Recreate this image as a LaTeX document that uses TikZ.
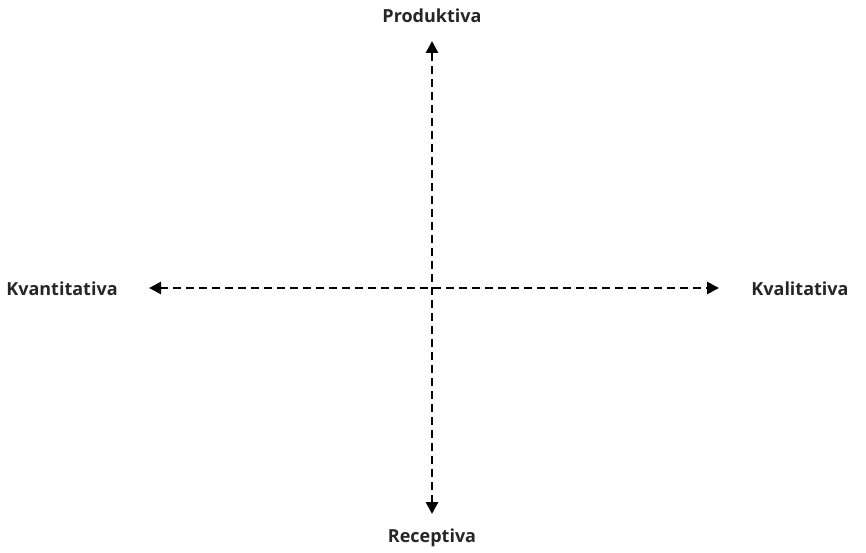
\documentclass[tikz,border=0pt]{standalone}
\usepackage{fontspec}
\setmainfont{Open Sans}
\usetikzlibrary{arrows.meta}
\definecolor{txt}{HTML}{262626}
\begin{document}
\begin{tikzpicture}[x=1pt,y=1pt,
  lbl/.style={font=\bfseries\fontsize{18}{21}\selectfont, text=txt, inner sep=0pt},
  axis/.style={line width=2.8pt, dash pattern=on 8pt off 5pt, {Triangle[length=12pt,width=12pt]}-{Triangle[length=12pt,width=12pt]}}]
\useasboundingbox (0,0) rectangle (866,552);
\coordinate (top) at (432,511);
\coordinate (bot) at (432,38);
\coordinate (lft) at (149,264);
\coordinate (rgt) at (719,264);
\node[lbl] (prod) at (432,536) {Produktiva};
\node[lbl] (rec) at (432,14) {Receptiva};
\node[lbl] (kvan) at (62,263) {Kvantitativa};
\node[lbl] (kval) at (800,263) {Kvalitativa};
\draw[axis] (bot) -- (top);
\draw[axis] (lft) -- (rgt);
\end{tikzpicture}
\end{document}
